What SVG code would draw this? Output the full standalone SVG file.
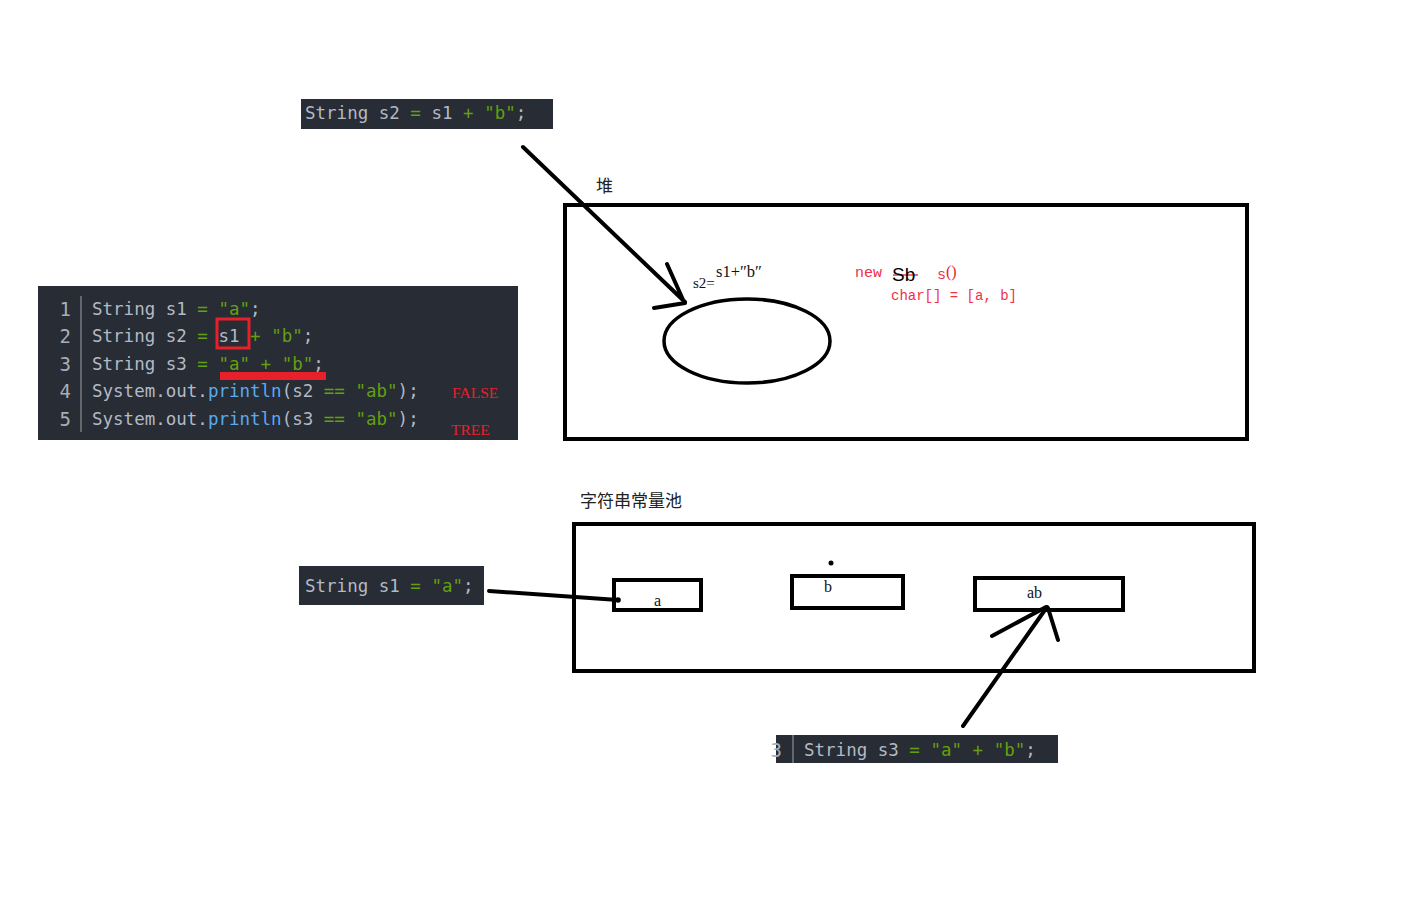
<svg xmlns="http://www.w3.org/2000/svg" width="1426" height="922" viewBox="0 0 1426 922">
  <style>
    .code-bg { fill: #282c34; }
    .code { font-family: "DejaVu Sans Mono", "Liberation Mono", monospace; font-size: 17.5px; fill: #b2bac6; white-space: pre; }
    .g { fill: #62a010; }
    .bl { fill: #5aaaf0; }
    .ln { font-family: "DejaVu Sans Mono", monospace; font-size: 19px; fill: #a8aeb8; text-anchor: end; }
    .sep { stroke: #8a9098; stroke-width: 1.2; }
    .frame { fill: none; stroke: #000; stroke-width: 4; }
    .cell { fill: #fff; stroke: #000; stroke-width: 4; }
    .ink { fill: none; stroke: #000; stroke-width: 4; stroke-linecap: round; }
    .cjk { font-family: "Noto Sans CJK SC", "Noto Sans CJK JP", sans-serif; font-size: 17px; fill: #222; }
    .note { font-family: "Liberation Serif", serif; fill: #111; }
    .red { font-family: "Liberation Serif", serif; fill: #e8202a; }
    .redmono { font-family: "Liberation Mono", monospace; fill: #f0304a; white-space: pre; }
    .lbl { font-family: "Liberation Serif", serif; font-size: 16px; fill: #111; }
  </style>

  <!-- snippet: String s2 = s1 + "b"; -->
  <g id="snippet-s2">
    <rect class="code-bg" x="301" y="99" width="252" height="30"/>
    <text class="code" x="305" y="119">String s2 <tspan class="g">=</tspan> s1 <tspan class="g">+</tspan> <tspan class="g">"b"</tspan>;</text>
  </g>

  <!-- full listing -->
  <g id="listing">
    <rect class="code-bg" x="38" y="286" width="480" height="154"/>
    <line class="sep" x1="81" y1="296" x2="81" y2="432"/>
    <text class="ln" x="71" y="316">1</text>
    <text class="ln" x="71" y="343">2</text>
    <text class="ln" x="71" y="371">3</text>
    <text class="ln" x="71" y="398">4</text>
    <text class="ln" x="71" y="426">5</text>
    <text class="code" x="92" y="315">String s1 <tspan class="g">=</tspan> <tspan class="g">"a"</tspan>;</text>
    <text class="code" x="92" y="342">String s2 <tspan class="g">=</tspan> s1 <tspan class="g">+</tspan> <tspan class="g">"b"</tspan>;</text>
    <text class="code" x="92" y="370">String s3 <tspan class="g">=</tspan> <tspan class="g">"a"</tspan> <tspan class="g">+</tspan> <tspan class="g">"b"</tspan>;</text>
    <text class="code" x="92" y="397">System.out.<tspan class="bl">println</tspan>(s2 <tspan class="g">==</tspan> <tspan class="g">"ab"</tspan>);</text>
    <text class="code" x="92" y="425">System.out.<tspan class="bl">println</tspan>(s3 <tspan class="g">==</tspan> <tspan class="g">"ab"</tspan>);</text>
    <!-- highlight marks -->
    <rect x="217" y="319" width="32" height="29" fill="none" stroke="#e8202a" stroke-width="3"/>
    <rect x="220" y="372" width="106" height="8" fill="#e8202a"/>
    <text class="red" x="452" y="398" font-size="15.5">FALSE</text>
    <text class="red" x="451" y="435" font-size="15.5">TREE</text>
  </g>

  <!-- heap -->
  <g id="heap">
    <text class="cjk" x="596" y="192" font-size="16">堆</text>
    <rect class="frame" x="565" y="205" width="682" height="234"/>
    <ellipse cx="747" cy="341" rx="83" ry="42" fill="none" stroke="#000" stroke-width="3.5"/>
    <text class="note" x="693" y="288" font-size="15">s2=</text>
    <text class="note" x="716" y="277" font-size="16.5">s1+″b″</text>
    <text class="redmono" x="855" y="277" font-size="15">new</text>
    <line x1="893" y1="275" x2="918" y2="275" stroke="#e8202a" stroke-width="1.3"/>
    <text x="892" y="281" font-family="Liberation Sans, sans-serif" font-size="19" fill="#000">Sb</text>
    <clipPath id="cut">
      <rect x="935" y="271" width="11" height="12"/>
    </clipPath>
    <text class="redmono" x="937" y="279" font-size="15" clip-path="url(#cut)">s</text>
    <text class="red" x="946" y="277" font-size="16">()</text>
    <text class="redmono" x="891" y="300" font-size="14">char[] = [a, b]</text>
  </g>

  <!-- string constant pool -->
  <g id="pool">
    <text class="cjk" x="580" y="507" font-size="17.5">字符串常量池</text>
    <rect class="frame" x="574" y="524" width="680" height="147"/>
  </g>
  <g id="pool-a">
    <rect class="cell" x="614" y="580" width="87" height="30"/>
    <text class="lbl" x="654" y="606">a</text>
  </g>
  <g id="pool-b">
    <rect class="cell" x="792" y="576" width="111" height="32"/>
    <text class="lbl" x="824" y="592">b</text>
    <circle cx="831" cy="563" r="2.5" fill="#000"/>
  </g>
  <g id="pool-ab">
    <rect class="cell" x="975" y="578" width="148" height="32"/>
    <text class="lbl" x="1027" y="598">ab</text>
  </g>

  <!-- snippet: String s1 = "a"; -->
  <g id="snippet-s1">
    <rect class="code-bg" x="299" y="566" width="185" height="39"/>
    <text class="code" x="305" y="592">String s1 <tspan class="g">=</tspan> <tspan class="g">"a"</tspan>;</text>
  </g>

  <!-- snippet: line 3 -->
  <g id="snippet-s3">
    <rect class="code-bg" x="776" y="735" width="282" height="28"/>
    <text class="ln" x="782" y="757">3</text>
    <line class="sep" x1="793" y1="735" x2="793" y2="763"/>
    <text class="code" x="804" y="756">String s3 <tspan class="g">=</tspan> <tspan class="g">"a"</tspan> <tspan class="g">+</tspan> <tspan class="g">"b"</tspan>;</text>
  </g>

  <!-- hand-drawn connectors -->
  <g id="connectors">
    <path class="ink" d="M523 147 L685 302 M667 264 L684 302 M654 308 L685 303"/>
    <path class="ink" d="M489 591 L618 600"/>
    <circle cx="618" cy="600" r="2.8" fill="#000"/>
    <path class="ink" d="M963 726 L1047 607 M992 636 L1046 607 M1058 640 L1048 608"/>
  </g>
</svg>
